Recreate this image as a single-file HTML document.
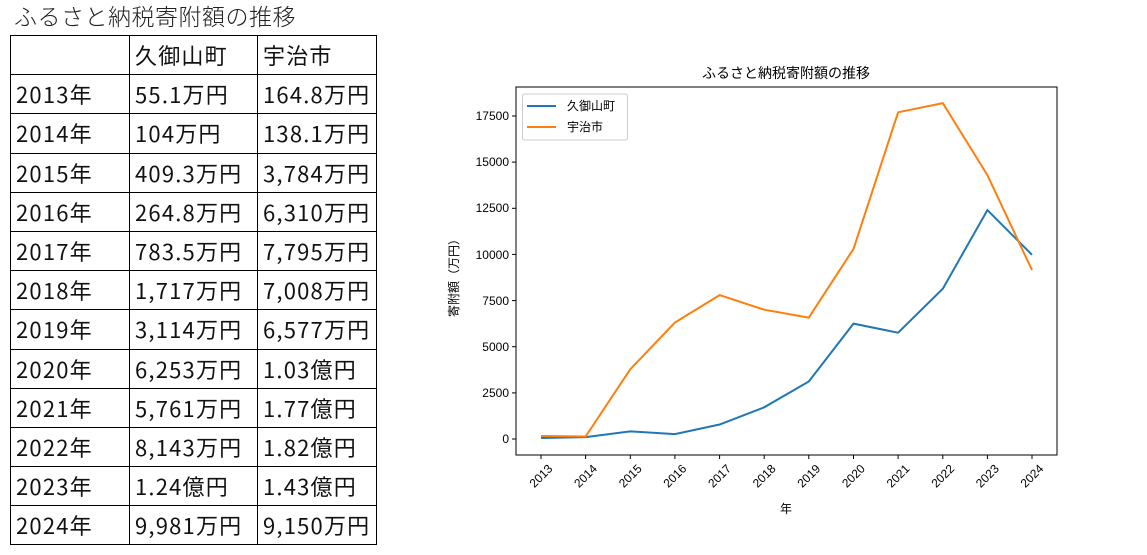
<!DOCTYPE html><html><head><meta charset="utf-8"><style>
body{margin:0;width:1147px;height:555px;background:#fff;overflow:hidden;position:relative;font-family:"Liberation Sans","Noto Sans CJK JP",sans-serif}
.t{position:absolute;left:14px;top:-2px;font-size:23px;color:#222;font-family:"Noto Sans CJK JP",sans-serif;font-weight:300;letter-spacing:0.5px}
table{position:absolute;left:10px;top:35px;border-collapse:collapse}
td{border:1px solid #000;height:38.2px;padding:0 0 0 5px;font-size:22px;line-height:1;color:#111;white-space:nowrap;font-family:"Noto Sans CJK JP",sans-serif;font-weight:400;letter-spacing:1.2px}
td:nth-child(1){width:113px}td:nth-child(2){width:122px}td:nth-child(3){width:113px}
svg{position:absolute;left:0;top:0}
svg text{font-family:"Liberation Sans","Noto Sans CJK JP",sans-serif;font-size:12px;fill:#000}
</style></head><body>
<div class="t">ふるさと納税寄附額の推移</div>
<table>
<tr><td></td><td>久御山町</td><td>宇治市</td></tr>
<tr><td>2013年</td><td>55.1万円</td><td>164.8万円</td></tr>
<tr><td>2014年</td><td>104万円</td><td>138.1万円</td></tr>
<tr><td>2015年</td><td>409.3万円</td><td>3,784万円</td></tr>
<tr><td>2016年</td><td>264.8万円</td><td>6,310万円</td></tr>
<tr><td>2017年</td><td>783.5万円</td><td>7,795万円</td></tr>
<tr><td>2018年</td><td>1,717万円</td><td>7,008万円</td></tr>
<tr><td>2019年</td><td>3,114万円</td><td>6,577万円</td></tr>
<tr><td>2020年</td><td>6,253万円</td><td>1.03億円</td></tr>
<tr><td>2021年</td><td>5,761万円</td><td>1.77億円</td></tr>
<tr><td>2022年</td><td>8,143万円</td><td>1.82億円</td></tr>
<tr><td>2023年</td><td>1.24億円</td><td>1.43億円</td></tr>
<tr><td>2024年</td><td>9,981万円</td><td>9,150万円</td></tr>
</table>
<svg width="1147" height="555">
<text x="786" y="78" text-anchor="middle" style="font-size:14px">ふるさと納税寄附額の推移</text>
<polyline fill="none" stroke="#1f77b4" stroke-width="2" points="541,438 585.6,437.1 630.3,431.4 674.9,434.1 719.6,424.5 764.2,407.3 808.8,381.5 853.5,323.6 898.1,332.7 942.8,288.7 987.4,210.1 1032,254.8"/>
<polyline fill="none" stroke="#ff7f0e" stroke-width="2" points="541,436 585.6,436.5 630.3,369.2 674.9,322.5 719.6,295.1 764.2,309.7 808.8,317.6 853.5,248.9 898.1,112.3 942.8,103.1 987.4,175.1 1032,270.1"/>
<rect x="516" y="87" width="541" height="368" fill="none" stroke="#000" stroke-width="1"/>
<g stroke="#000">
<line x1="512" x2="516" y1="439" y2="439"/><line x1="512" x2="516" y1="392.9" y2="392.9"/><line x1="512" x2="516" y1="346.7" y2="346.7"/><line x1="512" x2="516" y1="300.6" y2="300.6"/><line x1="512" x2="516" y1="254.4" y2="254.4"/><line x1="512" x2="516" y1="208.3" y2="208.3"/><line x1="512" x2="516" y1="162.1" y2="162.1"/><line x1="512" x2="516" y1="116" y2="116"/>
</g>
<g text-anchor="end">
<text x="509" y="443">0</text><text x="509" y="397">2500</text><text x="509" y="351">5000</text><text x="509" y="305">7500</text><text x="509" y="259">10000</text><text x="509" y="212">12500</text><text x="509" y="166">15000</text><text x="509" y="120">17500</text>
</g>
<g stroke="#000">
<line x1="541" x2="541" y1="455" y2="459"/><line x1="585.6" x2="585.6" y1="455" y2="459"/><line x1="630.3" x2="630.3" y1="455" y2="459"/><line x1="674.9" x2="674.9" y1="455" y2="459"/><line x1="719.6" x2="719.6" y1="455" y2="459"/><line x1="764.2" x2="764.2" y1="455" y2="459"/><line x1="808.8" x2="808.8" y1="455" y2="459"/><line x1="853.5" x2="853.5" y1="455" y2="459"/><line x1="898.1" x2="898.1" y1="455" y2="459"/><line x1="942.8" x2="942.8" y1="455" y2="459"/><line x1="987.4" x2="987.4" y1="455" y2="459"/><line x1="1032" x2="1032" y1="455" y2="459"/>
</g>
<g text-anchor="middle">
<text transform="translate(541,476) rotate(-45)" dy="4">2013</text><text transform="translate(585.6,476) rotate(-45)" dy="4">2014</text><text transform="translate(630.3,476) rotate(-45)" dy="4">2015</text><text transform="translate(674.9,476) rotate(-45)" dy="4">2016</text><text transform="translate(719.6,476) rotate(-45)" dy="4">2017</text><text transform="translate(764.2,476) rotate(-45)" dy="4">2018</text><text transform="translate(808.8,476) rotate(-45)" dy="4">2019</text><text transform="translate(853.5,476) rotate(-45)" dy="4">2020</text><text transform="translate(898.1,476) rotate(-45)" dy="4">2021</text><text transform="translate(942.8,476) rotate(-45)" dy="4">2022</text><text transform="translate(987.4,476) rotate(-45)" dy="4">2023</text><text transform="translate(1032,476) rotate(-45)" dy="4">2024</text>
</g>
<text x="786" y="513" text-anchor="middle">年</text>
<text transform="translate(458,275) rotate(-90)" text-anchor="middle">寄附額（万円）</text>
<rect x="522.5" y="94" width="105" height="46" fill="#fff" stroke="#ccc" rx="2"/>
<line x1="527" x2="556" y1="106" y2="106" stroke="#1f77b4" stroke-width="2"/>
<line x1="527" x2="556" y1="127" y2="127" stroke="#ff7f0e" stroke-width="2"/>
<text x="567" y="110">久御山町</text>
<text x="567" y="131">宇治市</text>
</svg>
</body></html>
